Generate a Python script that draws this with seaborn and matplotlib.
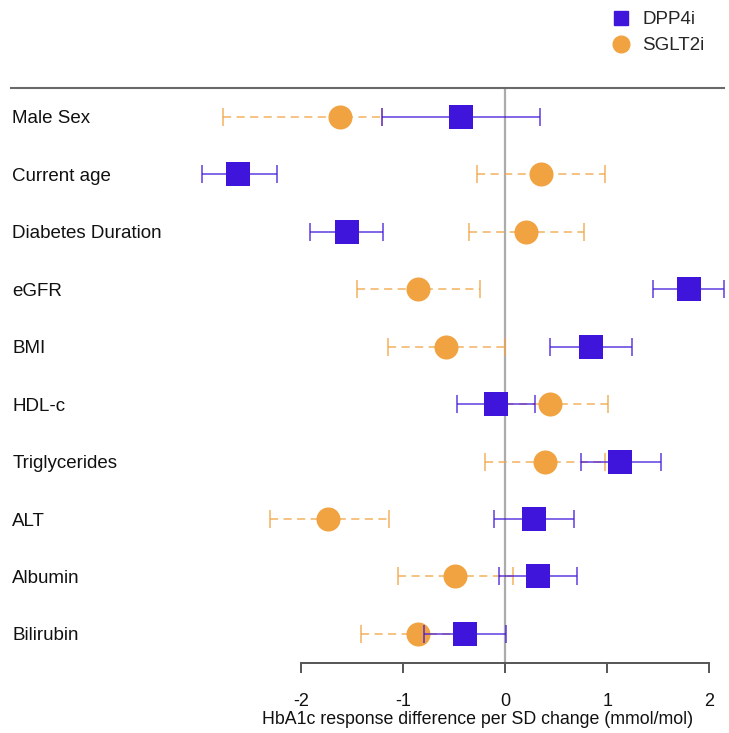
import numpy as np
import pandas as pd
import matplotlib
matplotlib.use("Agg")
import matplotlib.pyplot as plt
from matplotlib.lines import Line2D
import seaborn as sns

# Covariates shown as rows (top to bottom)
variables = ["Male Sex", "Current age", "Diabetes Duration", "eGFR", "BMI",
             "HDL-c", "Triglycerides", "ALT", "Albumin", "Bilirubin"]

# DPP4i: estimate and 95% CI
dpp4_est = [-0.43, -2.61, -1.55, 1.80, 0.84, -0.09, 1.13, 0.28, 0.32, -0.39]
dpp4_lo = [-1.20, -2.97, -1.91, 1.45, 0.44, -0.47, 0.74, -0.11, -0.06, -0.79]
dpp4_hi = [0.34, -2.23, -1.19, 2.14, 1.24, 0.29, 1.53, 0.68, 0.70, 0.01]

# SGLT2i: estimate and 95% CI
sglt2_est = [-1.62, 0.35, 0.21, -0.85, -0.58, 0.44, 0.39, -1.73, -0.49, -0.85]
sglt2_lo = [-2.76, -0.27, -0.35, -1.45, -1.15, -0.13, -0.20, -2.30, -1.05, -1.41]
sglt2_hi = [-1.20, 0.98, 0.77, -0.24, 0.00, 1.01, 0.98, -1.14, 0.08, -0.29]

x_ticks = [-2, -1, 0, 1, 2]
x_label = "HbA1c response difference per SD change (mmol/mol)"

PURPLE = "#3F15DB"
ORANGE = "#F0A340"

sns.set_theme(style="white")
plt.rcParams["font.family"] = ["Liberation Sans", "DejaVu Sans"]

rows = np.arange(len(variables))
df = pd.concat([
    pd.DataFrame({"row": rows, "est": dpp4_est, "lo": dpp4_lo, "hi": dpp4_hi, "drug": "DPP4i"}),
    pd.DataFrame({"row": rows, "est": sglt2_est, "lo": sglt2_lo, "hi": sglt2_hi, "drug": "SGLT2i"}),
], ignore_index=True)

W, H = 729, 733
fig = plt.figure(figsize=(W / 100, H / 100), dpi=100)
ax = fig.add_axes([10.7 / W, 1 - 663 / H, 713 / W, (663 - 87.7) / H])

ax.set_xlim(-4.839, 2.141)
ax.set_ylim(9.506, -0.51)

# reference line at zero
ax.axvline(0, color="#ababab", lw=1.6, zorder=1)

def draw_group(name, color, marker, dashes, z):
    d = df[df["drug"] == name]
    eb = ax.errorbar(d["est"], d["row"],
                     xerr=[d["est"] - d["lo"], d["hi"] - d["est"]],
                     fmt="none", ecolor=color, elinewidth=1.3, capsize=6.5,
                     capthick=1.3, alpha=0.7, zorder=z)
    for lc in eb[2]:
        lc.set_linestyle((0, dashes) if dashes else "solid")
    sns.scatterplot(data=d, x="est", y="row", marker=marker, color=color,
                    s=300, linewidth=0, ax=ax, legend=False, zorder=z + 1)

draw_group("SGLT2i", ORANGE, "o", (4.5, 3.0), 2)
draw_group("DPP4i", PURPLE, "s", None, 4)

# row labels on the left
for r, name in zip(rows, variables):
    ax.text(0.002, r, name, transform=ax.get_yaxis_transform(),
            ha="left", va="center_baseline", fontsize=13.5, color="#111111")

# axes frame: top rule and bottom axis from -2 to 2
for side in ["left", "right"]:
    ax.spines[side].set_visible(False)
ax.spines["top"].set_color("#6a6a6a")
ax.spines["top"].set_linewidth(1.5)
ax.spines["bottom"].set_color("#555555")
ax.spines["bottom"].set_linewidth(1.4)
ax.spines["bottom"].set_bounds(x_ticks[0], x_ticks[-1])

ax.set_yticks([])
ax.set_xticks(x_ticks)
ax.set_xticklabels([str(t) for t in x_ticks])
ax.tick_params(axis="x", direction="out", length=7.5, width=1.4,
               color="#555555", pad=14, labelsize=13, labelcolor="#111111",
               bottom=True)
ax.set_xlabel("")
ax.set_ylabel("")
ax.grid(False)

fig.text(477.5 / W, 1 - 720 / H, x_label, ha="center", va="center",
         fontsize=12.8, color="#111111")

handles = [
    Line2D([], [], marker="s", ls="", color=PURPLE, markersize=10.5),
    Line2D([], [], marker="o", ls="", color=ORANGE, markersize=12),
]
fig.legend(handles, ["DPP4i", "SGLT2i"], loc="upper left",
           bbox_to_anchor=(600 / W, 1 - 2 / H), frameon=False,
           fontsize=13.5, handletextpad=0.55, labelspacing=0.45,
           borderpad=0, handlelength=1.2)

fig.savefig("out.png", dpi=100)
